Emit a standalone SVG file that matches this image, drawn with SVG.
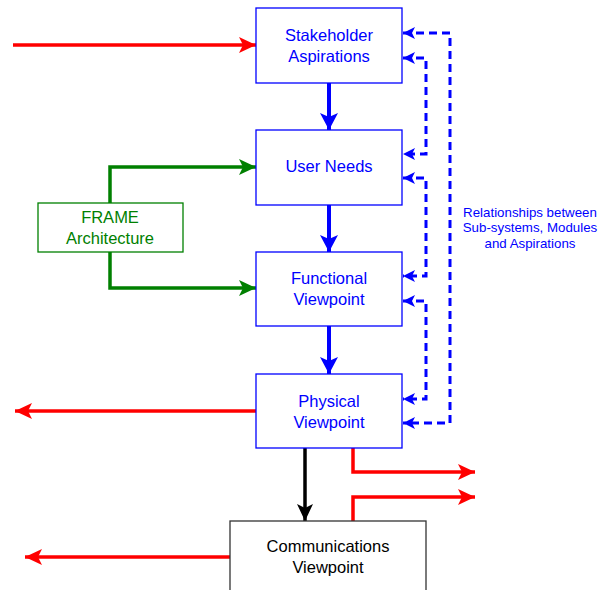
<svg xmlns="http://www.w3.org/2000/svg" width="606" height="590" viewBox="0 0 606 590">
<defs>
<style>
.bx{fill:#fff;stroke:#0000ff;stroke-width:1.3}
.gb{fill:#fff;stroke:#008000;stroke-width:1.3}
.kb{fill:#fff;stroke:#333;stroke-width:1.3}
text{font-family:"Liberation Sans",Arial,sans-serif;font-size:16.5px;text-anchor:middle}
.bt{fill:#0000ff}
.gt{fill:#008000}
.kt{fill:#000}
.rt{fill:#0000ff;font-size:13.3px}
.red{fill:none;stroke:#ff0000;stroke-width:3.5}
.blue{fill:none;stroke:#0000ff;stroke-width:4}
.green{fill:none;stroke:#008000;stroke-width:3.5}
.black{fill:none;stroke:#000;stroke-width:3.5}
.dash{fill:none;stroke:#0000ff;stroke-width:3;stroke-dasharray:8 5}
</style>
<marker id="ar" markerUnits="userSpaceOnUse" markerWidth="20" markerHeight="20" viewBox="-18 -9 20 18" refX="0" refY="0" orient="auto"><path d="M0,0 L-17,-8 L-13,0 L-17,8 z" fill="#ff0000"/></marker>
<marker id="ab" markerUnits="userSpaceOnUse" markerWidth="20" markerHeight="20" viewBox="-18 -10 20 20" refX="0" refY="0" orient="auto"><path d="M0,0 L-17,-9 L-13,0 L-17,9 z" fill="#0000ff"/></marker>
<marker id="ag" markerUnits="userSpaceOnUse" markerWidth="20" markerHeight="20" viewBox="-18 -9 20 18" refX="0" refY="0" orient="auto"><path d="M0,0 L-17,-8 L-13,0 L-17,8 z" fill="#008000"/></marker>
<marker id="ak" markerUnits="userSpaceOnUse" markerWidth="20" markerHeight="20" viewBox="-18 -9 20 18" refX="0" refY="0" orient="auto"><path d="M0,0 L-17,-8 L-13,0 L-17,8 z" fill="#000"/></marker>
<marker id="ad" markerUnits="userSpaceOnUse" markerWidth="16" markerHeight="16" viewBox="-14 -7 16 14" refX="0" refY="0" orient="auto-start-reverse"><path d="M0,0 L-12,-6 L-9,0 L-12,6 z" fill="#0000ff"/></marker>
</defs>
<g id="connectors">
<line class="red" x1="13" y1="45" x2="256" y2="45" marker-end="url(#ar)"/>
<line class="red" x1="257" y1="411" x2="15" y2="411" marker-end="url(#ar)"/>
<line class="red" x1="230" y1="557" x2="25" y2="557" marker-end="url(#ar)"/>
<polyline class="red" points="353,447 353,472 475,472" marker-end="url(#ar)"/>
<polyline class="red" points="353,521 353,497 475,497" marker-end="url(#ar)"/>
<line class="blue" x1="329" y1="83" x2="329" y2="130" marker-end="url(#ab)"/>
<line class="blue" x1="329" y1="205" x2="329" y2="252" marker-end="url(#ab)"/>
<line class="blue" x1="329" y1="326" x2="329" y2="374" marker-end="url(#ab)"/>
<line class="black" x1="305" y1="448" x2="305" y2="521" marker-end="url(#ak)"/>
<polyline class="green" points="110,203 110,167 256,167" marker-end="url(#ag)"/>
<polyline class="green" points="110,252 110,288 256,288" marker-end="url(#ag)"/>
<polyline class="dash" points="403,33 450,33 450,423 403,423" marker-start="url(#ad)" marker-end="url(#ad)"/>
<polyline class="dash" points="403,58 426,58 426,154 403,154" marker-start="url(#ad)" marker-end="url(#ad)"/>
<polyline class="dash" points="403,178 426,178 426,276 403,276" marker-start="url(#ad)" marker-end="url(#ad)"/>
<polyline class="dash" points="403,301 426,301 426,399 403,399" marker-start="url(#ad)" marker-end="url(#ad)"/>
</g>
<g id="stakeholder">
<rect class="bx" x="256" y="8" width="146" height="75"/>
<text class="bt" x="329" y="41">Stakeholder</text>
<text class="bt" x="329" y="62">Aspirations</text>
</g>
<g id="userneeds">
<rect class="bx" x="256" y="130" width="146" height="75"/>
<text class="bt" x="329" y="172">User Needs</text>
</g>
<g id="functional">
<rect class="bx" x="256" y="252" width="146" height="74"/>
<text class="bt" x="329" y="284">Functional</text>
<text class="bt" x="329" y="305">Viewpoint</text>
</g>
<g id="physical">
<rect class="bx" x="256" y="374" width="146" height="74"/>
<text class="bt" x="329" y="407">Physical</text>
<text class="bt" x="329" y="428">Viewpoint</text>
</g>
<g id="communications">
<rect class="kb" x="230" y="521" width="196" height="80"/>
<text class="kt" x="328" y="552">Communications</text>
<text class="kt" x="328" y="573">Viewpoint</text>
</g>
<g id="frame">
<rect class="gb" x="38" y="203" width="145" height="49"/>
<text class="gt" x="110" y="223">FRAME</text>
<text class="gt" x="110" y="244">Architecture</text>
</g>
<g id="relationships-label">
<text class="rt" x="530" y="217">Relationships between</text>
<text class="rt" x="530" y="232">Sub-systems, Modules</text>
<text class="rt" x="530" y="248">and Aspirations</text>
</g>
</svg>
